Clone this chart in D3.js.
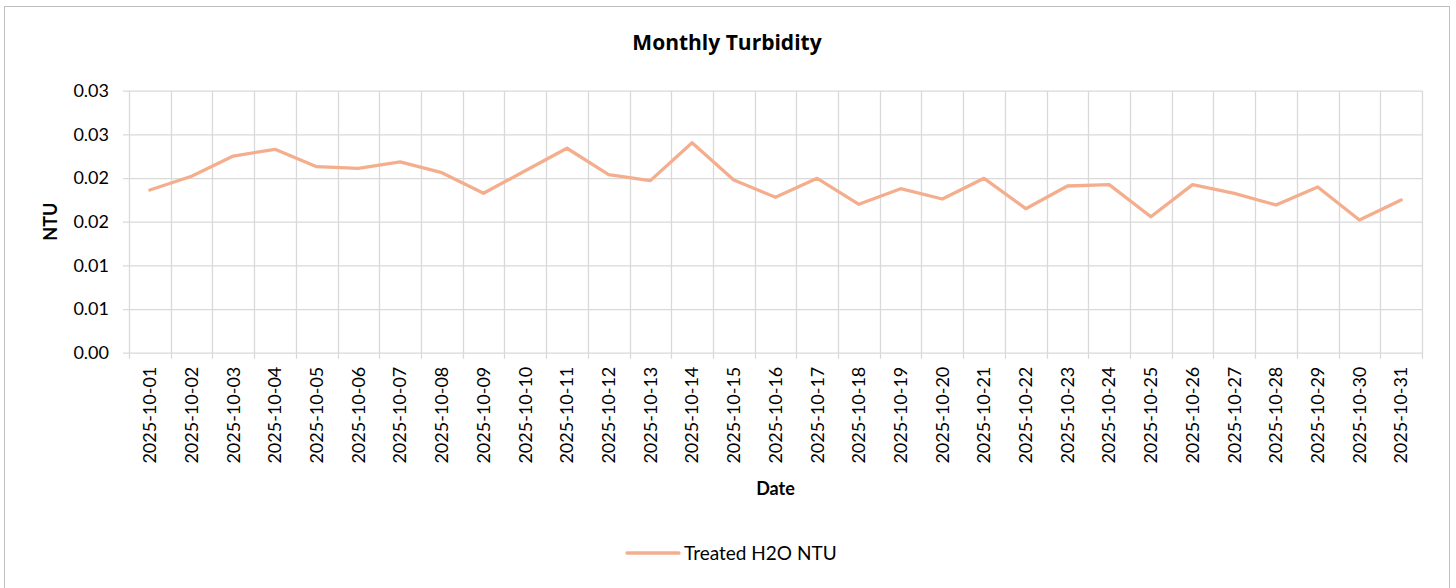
<!DOCTYPE html>
<html>
<head>
<meta charset="utf-8">
<script src="https://cdn.jsdelivr.net/npm/d3@7"></script>
<style>
  body { margin: 0; background: #fff; }
  text { font-family: Lato, "Open Sans", sans-serif; fill: #000; }
</style>
</head>
<body>
<div class="chart-wrapper"></div>
<script>
const dates = [
    '2025-10-01', '2025-10-02', '2025-10-03', '2025-10-04', '2025-10-05', '2025-10-06',
    '2025-10-07', '2025-10-08', '2025-10-09', '2025-10-10', '2025-10-11', '2025-10-12',
    '2025-10-13', '2025-10-14', '2025-10-15', '2025-10-16', '2025-10-17', '2025-10-18',
    '2025-10-19', '2025-10-20', '2025-10-21', '2025-10-22', '2025-10-23', '2025-10-24',
    '2025-10-25', '2025-10-26', '2025-10-27', '2025-10-28', '2025-10-29', '2025-10-30',
    '2025-10-31'
];
const treatedNtu = [
    0.01863, 0.02020, 0.02252, 0.02329, 0.02130, 0.02111,
    0.02184, 0.02061, 0.01825, 0.02084, 0.02341, 0.02038,
    0.01970, 0.02405, 0.01978, 0.01779, 0.01997, 0.01699,
    0.01878, 0.01760, 0.01997, 0.01649, 0.01909, 0.01924,
    0.01557, 0.01924, 0.01825, 0.01691, 0.01897, 0.01519,
    0.01748
];
const yTicks = [0, 0.005, 0.01, 0.015, 0.02, 0.025, 0.03];
const yTickLabels = ['0.00', '0.01', '0.01', '0.02', '0.02', '0.03', '0.03'];

const dims = {
    width: 1456,
    height: 588,
    margin: { top: 90.7, right: 34, bottom: 235.3, left: 129 },
};
dims.boundedWidth = dims.width - dims.margin.left - dims.margin.right;
dims.boundedHeight = dims.height - dims.margin.top - dims.margin.bottom;

const lineColor = '#f4ae8e';
const gridColor = '#d9d9d9';

const svg = d3.select('.chart-wrapper')
    .append('svg')
    .attr('width', dims.width)
    .attr('height', dims.height);

// chart border
svg.append('rect')
    .attr('x', 4.5).attr('y', 6.5)
    .attr('width', 1445).attr('height', 590)
    .attr('fill', 'none')
    .attr('stroke', '#bfbfbf');

const bounds = svg.append('g')
    .attr('transform', `translate(${dims.margin.left}, ${dims.margin.top})`);

const xScale = d3.scaleBand()
    .domain(dates)
    .range([0, dims.boundedWidth])
    .padding(0);

const yScale = d3.scaleLinear()
    .domain([0, 0.03])
    .range([dims.boundedHeight, 0]);

// vertical gridlines at category boundaries (with tick marks below)
const boundaries = dates.map(d => xScale(d)).concat([xScale.range()[1]]);
bounds.append('g')
    .selectAll('line')
    .data(boundaries)
    .join('line')
    .attr('x1', d => Math.round(d) + 0.5)
    .attr('x2', d => Math.round(d) + 0.5)
    .attr('y1', 0)
    .attr('y2', dims.boundedHeight + 6)
    .attr('stroke', gridColor)
    .attr('stroke-width', 1.3);

// y axis with horizontal gridlines
const yAxis = d3.axisLeft(yScale)
    .tickValues(yTicks)
    .tickFormat((d, i) => yTickLabels[i])
    .tickSizeInner(-dims.boundedWidth)
    .tickSizeOuter(0)
    .tickPadding(20);

const yAxisG = bounds.append('g').call(yAxis);
yAxisG.select('.domain').remove();
yAxisG.selectAll('line')
    .attr('x1', -6)
    .attr('stroke', gridColor)
    .attr('stroke-width', 1.3);
yAxisG.selectAll('text')
    .style('font-size', '18px')
    .attr('fill', '#000');

// x axis labels
const xAxis = d3.axisBottom(xScale).tickSize(0);
const xAxisG = bounds.append('g')
    .attr('transform', `translate(0, ${dims.boundedHeight})`)
    .call(xAxis);
xAxisG.select('.domain').remove();
xAxisG.selectAll('text')
    .attr('transform', 'rotate(-90)')
    .attr('x', -14)
    .attr('y', 0)
    .attr('dy', '0.35em')
    .attr('text-anchor', 'end')
    .style('font-size', '18px')
    .attr('fill', '#000');

// the line
const lineGenerator = d3.line()
    .x((d, i) => xScale(dates[i]) + xScale.bandwidth() / 2)
    .y(d => yScale(d));

bounds.append('path')
    .attr('d', lineGenerator(treatedNtu))
    .attr('fill', 'none')
    .attr('stroke', lineColor)
    .attr('stroke-width', 3.3)
    .attr('stroke-linejoin', 'round')
    .attr('stroke-linecap', 'round');

// title
svg.append('text')
    .attr('x', 727)
    .attr('y', 50)
    .attr('text-anchor', 'middle')
    .style('font-family', '"Open Sans", Lato, sans-serif')
    .style('font-size', '21px')
    .style('font-weight', 'bold')
    .text('Monthly Turbidity');

// axis titles
svg.append('text')
    .attr('transform', `translate(51, ${dims.margin.top + dims.boundedHeight / 2}) rotate(-90)`)
    .attr('text-anchor', 'middle')
    .attr('dy', '0.35em')
    .style('font-size', '18px')
    .style('font-weight', 'bold')
    .text('NTU');

svg.append('text')
    .attr('x', dims.margin.left + dims.boundedWidth / 2)
    .attr('y', 489)
    .attr('dy', '0.35em')
    .attr('text-anchor', 'middle')
    .style('font-size', '18px')
    .style('font-weight', 'bold')
    .text('Date');

// legend
const legend = svg.append('g').attr('transform', 'translate(626, 553)');
legend.append('line')
    .attr('x1', 1).attr('x2', 53)
    .attr('y1', 0).attr('y2', 0)
    .attr('stroke', lineColor)
    .attr('stroke-width', 3.3)
    .attr('stroke-linecap', 'round');
legend.append('text')
    .attr('x', 58)
    .attr('dy', '0.35em')
    .style('font-size', '19px')
    .text('Treated H2O NTU');
</script>
</body>
</html>
